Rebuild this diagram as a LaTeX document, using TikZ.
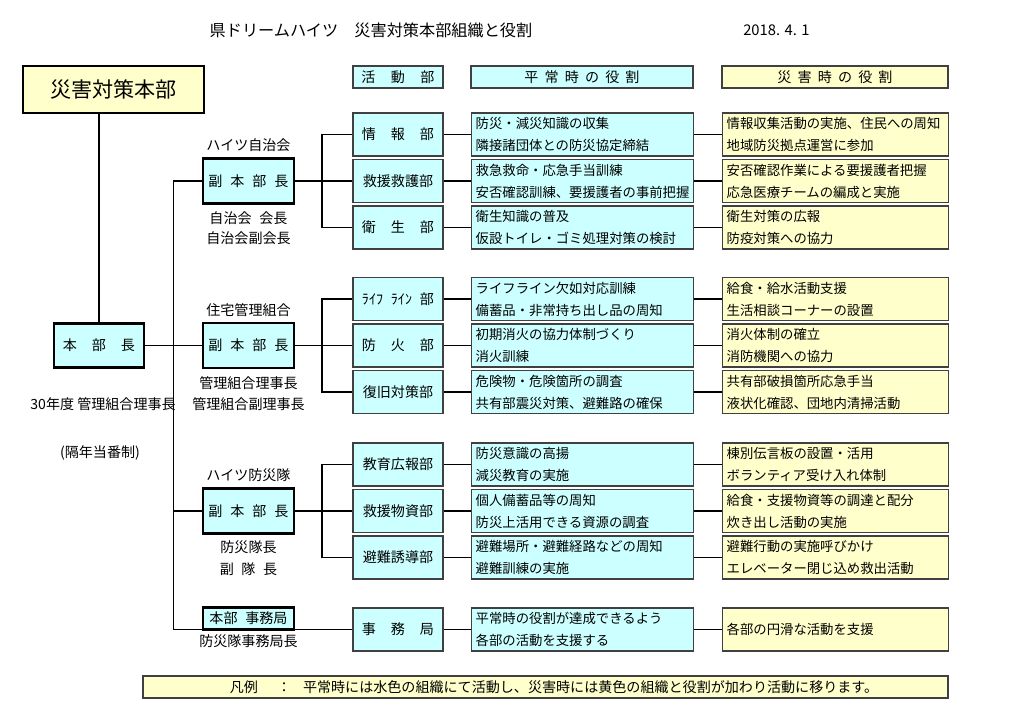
\documentclass[tikz,border=0pt]{standalone}
\usepackage{fontspec}
\setmainfont{Noto Sans CJK JP}
\definecolor{NormalClr}{rgb}{0.8,1,1}
\definecolor{DisasterClr}{rgb}{1,1,0.8}
\definecolor{FrameClr}{rgb}{0.25,0.25,0.25}
\newcommand{\Spread}[2]{\makebox[#1][s]{#2}}

\begin{document}
\begin{tikzpicture}[x=.025cm,y=-.025cm,
  every node/.style={inner sep=0pt,font=\fontsize{10}{12}\selectfont},
  ThinBox/.style={draw=FrameClr,line width=1pt},
  BoldBox/.style={draw=black,line width=2pt,fill=NormalClr},
  DepBox/.style={ThinBox,fill=NormalClr,minimum width=2.25cm,minimum height=1.075cm},
  RoleBox/.style={ThinBox,anchor=west,text width=5.35cm,inner xsep=.1cm,minimum height=1.075cm,
    align=left,font=\fontsize{9.5}{15.6}\selectfont},
  Link/.style={line width=1.4pt}]
\useasboundingbox (0,0) rectangle (1024,724);

\node (title) at (371,30) {\fontsize{11.5}{14}\selectfont 県ドリームハイツ　災害対策本部組織と役割};
\node[anchor=west] (date) at (743,30) {\fontsize{10.5}{13}\selectfont 2018. 4. 1};

\node[BoldBox,fill=DisasterClr,minimum width=4.525cm,minimum height=1.175cm] (hq) at (113.5,89.5)
  {\fontsize{15}{18}\selectfont 災害対策本部};
\node[ThinBox,fill=NormalClr,minimum width=2.25cm,minimum height=.55cm] (hdA) at (398,77) {\Spread{1.825cm}{活 動 部}};
\node[ThinBox,fill=NormalClr,minimum width=5.55cm,minimum height=.55cm] (hdB) at (582,77) {\Spread{2.875cm}{平 常 時 の 役 割}};
\node[ThinBox,fill=DisasterClr,minimum width=5.65cm,minimum height=.55cm] (hdC) at (835,77) {\Spread{2.875cm}{災 害 時 の 役 割}};

\foreach \y/\dep/\na/\da [count=\i] in {
  134.5/{\Spread{1.8cm}{情 報 部}}/{防災・減災知識の収集\\隣接諸団体との防災協定締結}/{情報収集活動の実施、住民への周知\\地域防災拠点運営に参加},
  181/{救援救護部}/{救急救命・応急手当訓練\\安否確認訓練、要援護者の事前把握}/{安否確認作業による要援護者把握\\応急医療チームの編成と実施},
  227.5/{\Spread{1.8cm}{衛 生 部}}/{衛生知識の普及\\仮設トイレ・ゴミ処理対策の検討}/{衛生対策の広報\\防疫対策への協力},
  299/{\Spread{1.8cm}{ﾗｲﾌ ﾗｲﾝ 部}}/{ライフライン欠如対応訓練\\備蓄品・非常持ち出し品の周知}/{給食・給水活動支援\\生活相談コーナーの設置},
  345.5/{\Spread{1.8cm}{防 火 部}}/{初期消火の協力体制づくり\\消火訓練}/{消火体制の確立\\消防機関への協力},
  392/{復旧対策部}/{危険物・危険箇所の調査\\共有部震災対策、避難路の確保}/{共有部破損箇所応急手当\\液状化確認、団地内清掃活動},
  464.5/{教育広報部}/{防災意識の高揚\\減災教育の実施}/{棟別伝言板の設置・活用\\ボランティア受け入れ体制},
  511/{救援物資部}/{個人備蓄品等の周知\\防災上活用できる資源の調査}/{給食・支援物資等の調達と配分\\炊き出し活動の実施},
  557.5/{避難誘導部}/{避難場所・避難経路などの周知\\避難訓練の実施}/{避難行動の実施呼びかけ\\エレベーター閉じ込め救出活動},
  629.5/{\Spread{1.8cm}{事 務 局}}/{平常時の役割が達成できるよう\\各部の活動を支援する}/{各部の円滑な活動を支援}} {
  \node[DepBox] (dep\i) at (398,\y) {\dep};
  \node[RoleBox,fill=NormalClr] (nor\i) at (471,\y) {\na};
  \node[RoleBox,fill=DisasterClr,text width=5.45cm] (dis\i) at (722,\y) {\da};
  \draw[Link] (dep\i.east) -- (nor\i.west) (nor\i.east) -- (dis\i.west);
}

\node[BoldBox,minimum width=2.25cm,minimum height=1.1cm] (chief) at (99,345.5) {\Spread{1.8cm}{本 部 長}};
\node[BoldBox,minimum width=2.275cm,minimum height=1.125cm] (V1) at (248.5,181) {\Spread{2cm}{副 本 部 長}};
\node[BoldBox,minimum width=2.275cm,minimum height=1.125cm] (V2) at (248.5,345.5) {\Spread{2cm}{副 本 部 長}};
\node[BoldBox,minimum width=2.275cm,minimum height=1.125cm] (V3) at (248.5,511) {\Spread{2cm}{副 本 部 長}};
\node[BoldBox,minimum width=2.275cm,minimum height=.55cm] (office) at (248.5,618.5) {本部\hspace{.55em}事務局};

\node (lbA) at (248.5,145) {ハイツ自治会};
\node (lbA1) at (248.5,218) {自治会\hspace{.55em}会長};
\node (lbA2) at (248.5,238) {自治会副会長};
\node (lbB) at (248.5,310) {住宅管理組合};
\node (lbB1) at (248.5,383) {管理組合理事長};
\node (lbB2) at (248.5,404) {管理組合副理事長};
\node[anchor=east] (lbC) at (176,404) {30年度 管理組合理事長};
\node (lbC1) at (100,453) {(隔年当番制)};
\node (lbD) at (248.5,475) {ハイツ防災隊};
\node (lbD1) at (248.5,547) {防災隊長};
\node (lbD2) at (248.5,569) {\Spread{1.43cm}{副 隊 長}};
\node (lbE) at (248.5,641) {防災隊事務局長};

\node[ThinBox,fill=DisasterClr,text width=20.125cm,minimum height=.55cm,align=left] (legend) at (545.5,687)
  {\hspace*{2.175cm}凡例\hspace{1.35em}：\hspace{.85em}平常時には水色の組織にて活動し、災害時には黄色の組織と役割が加わり活動に移ります。};

\coordinate (bus) at (173.5,0);
\draw[Link] (hq.south -| chief.north) -- (chief.north);
\draw[Link] (chief.east) -- (V2.west);
\draw[Link] (V1.west) -- (V1.west -| bus) |- (dep10.west);
\draw[Link] (V3.west -| bus) -- (V3.west);
\foreach \v/\a/\m/\b in {V1/1/2/3,V2/4/5/6,V3/7/8/9} {
  \draw[Link] (\v.east) -- (dep\m.west);
  \draw[Link] (dep\a.west) -- ++(-30,0) |- (dep\b.west);
}
\end{tikzpicture}
\end{document}
